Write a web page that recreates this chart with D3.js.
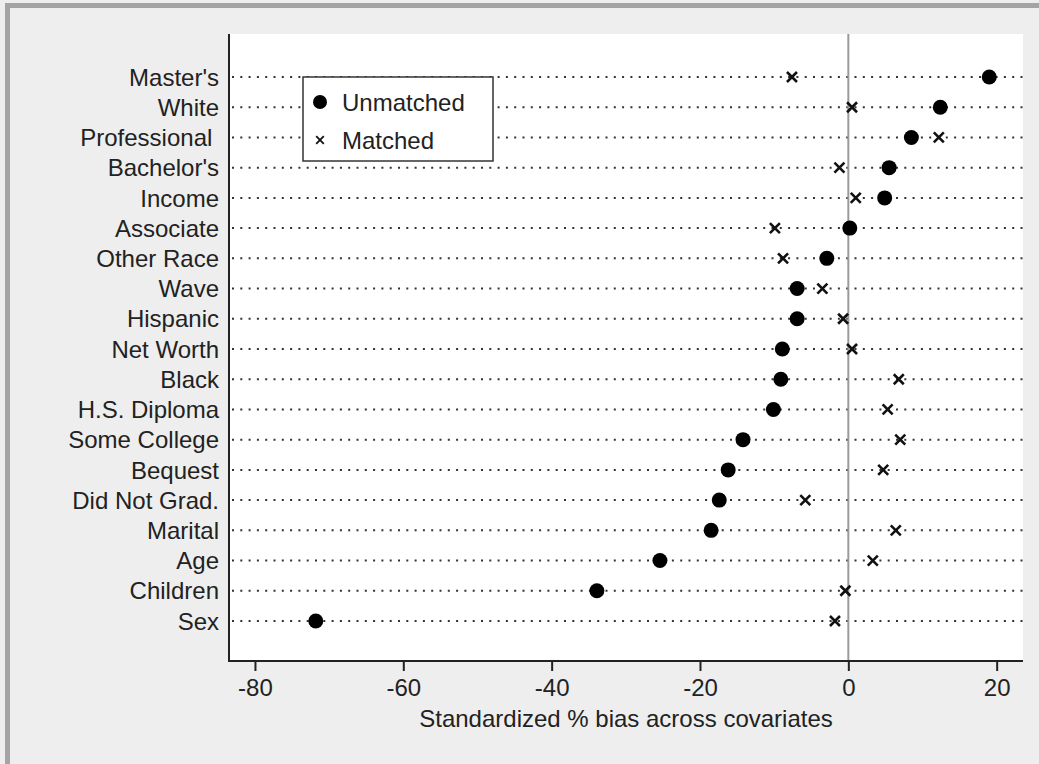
<!DOCTYPE html>
<html>
<head>
<meta charset="utf-8">
<script src="https://cdn.jsdelivr.net/npm/d3@7"></script>
<style>
  html, body { margin: 0; padding: 0; background: #eeeeee; }
  svg { display: block; font-family: "Liberation Sans", Arial, Helvetica, sans-serif; }
  text { white-space: pre; }
</style>
</head>
<body>
<svg id="chart"></svg>
<script>
// covariates, top to bottom
var covariates = ["Master's", "White", "Professional ", "Bachelor's", "Income", "Associate",
  "Other Race", "Wave", "Hispanic", "Net Worth", "Black", "H.S. Diploma", "Some College",
  "Bequest", "Did Not Grad.", "Marital", "Age", "Children", "Sex"];

// standardized % bias before matching
var unmatched = [19.0, 12.4, 8.5, 5.5, 4.9, 0.2, -2.9, -6.9, -6.9, -8.9, -9.1, -10.1, -14.2,
  -16.2, -17.4, -18.5, -25.4, -33.9, -71.8];

// standardized % bias after matching
var matched = [-7.6, 0.5, 12.2, -1.2, 1.0, -9.9, -8.8, -3.5, -0.7, 0.5, 6.8, 5.3, 7.0,
  4.7, -5.8, 6.4, 3.3, -0.4, -1.8];

var xTicks = [-80, -60, -40, -20, 0, 20];
var legendLabels = ["Unmatched", "Matched"];

var W = 1039, H = 764;
var plot = { left: 229, right: 1023, top: 34, bottom: 661 };
var fontSize = "24px";

var svg = d3.select("#chart").attr("width", W).attr("height", H);

// window frame
svg.append("rect").attr("x", 0).attr("y", 0).attr("width", W).attr("height", H).attr("fill", "#eeeeee");
svg.append("rect").attr("x", 5).attr("y", 3).attr("width", W - 5).attr("height", 5).attr("fill", "#a4a4a4");
svg.append("rect").attr("x", 5).attr("y", 3).attr("width", 5).attr("height", H - 3).attr("fill", "#a4a4a4");

var x = d3.scaleLinear().domain([-83.5, 23.55]).range([plot.left, plot.right]);
var y = d3.scalePoint().domain(covariates).range([77, 621]);

// plot region
svg.append("rect")
  .attr("x", plot.left).attr("y", plot.top)
  .attr("width", plot.right - plot.left).attr("height", plot.bottom - plot.top)
  .attr("fill", "#ffffff");

// dotted row guides
svg.selectAll(".guide")
  .data(covariates)
  .enter().append("line")
  .attr("class", "guide")
  .attr("x1", plot.left + 3).attr("x2", plot.right)
  .attr("y1", function (d) { return y(d); })
  .attr("y2", function (d) { return y(d); })
  .attr("stroke", "#333")
  .attr("stroke-width", 2)
  .attr("stroke-dasharray", "2,6.3");

// zero reference line
svg.append("line")
  .attr("x1", x(0)).attr("x2", x(0))
  .attr("y1", plot.top).attr("y2", plot.bottom)
  .attr("stroke", "#9a9a9a")
  .attr("stroke-width", 2);

// x axis
var xAxis = svg.append("g")
  .attr("transform", "translate(0," + plot.bottom + ")")
  .call(d3.axisBottom(x).tickValues(xTicks).tickSize(10).tickPadding(8).tickSizeOuter(0));
xAxis.select(".domain").remove();
xAxis.append("line")
  .attr("x1", plot.left - 1).attr("x2", plot.right)
  .attr("stroke", "#222").attr("stroke-width", 2);
xAxis.selectAll(".tick line").attr("stroke", "#222").attr("stroke-width", 2);
xAxis.selectAll(".tick text")
  .attr("fill", "#222")
  .style("font-size", fontSize)
  .style("font-family", "'Liberation Sans', Arial, sans-serif")
  .text(function (d) { return d < 0 ? "-" + Math.abs(d) : d; });

// y axis line
svg.append("line")
  .attr("x1", plot.left).attr("x2", plot.left)
  .attr("y1", plot.top).attr("y2", plot.bottom + 1)
  .attr("stroke", "#222").attr("stroke-width", 2);

// y labels
svg.selectAll(".ylab")
  .data(covariates)
  .enter().append("text")
  .attr("class", "ylab")
  .attr("x", 219)
  .attr("y", function (d) { return y(d); })
  .attr("dy", "0.36em")
  .attr("text-anchor", "end")
  .attr("fill", "#222")
  .style("font-size", fontSize)
  .text(function (d) { return d; });

// axis title
svg.append("text")
  .attr("x", (plot.left + plot.right) / 2)
  .attr("y", 727)
  .attr("text-anchor", "middle")
  .attr("fill", "#222")
  .style("font-size", fontSize)
  .text("Standardized % bias across covariates");

function cross(g, cx, cy, s, w) {
  g.append("path")
    .attr("d", "M" + (cx - s) + "," + (cy - s) + "L" + (cx + s) + "," + (cy + s) +
      "M" + (cx - s) + "," + (cy + s) + "L" + (cx + s) + "," + (cy - s))
    .attr("stroke", "#111")
    .attr("stroke-width", w)
    .attr("fill", "none");
}

// matched markers
var mg = svg.append("g");
matched.forEach(function (v, i) {
  cross(mg, x(v), y(covariates[i]), 5, 2.6);
});

// unmatched markers
svg.selectAll(".dot")
  .data(unmatched)
  .enter().append("circle")
  .attr("class", "dot")
  .attr("cx", function (d) { return x(d); })
  .attr("cy", function (d, i) { return y(covariates[i]); })
  .attr("r", 7.5)
  .attr("fill", "#000");

// legend
var lg = svg.append("g");
lg.append("rect")
  .attr("x", 303).attr("y", 77).attr("width", 190).attr("height", 84)
  .attr("fill", "#fff").attr("stroke", "#333").attr("stroke-width", 1.5);
lg.append("circle").attr("cx", 320).attr("cy", 102).attr("r", 7).attr("fill", "#000");
cross(lg, 320, 140, 3.8, 1.8);
lg.selectAll(".ltxt")
  .data(legendLabels)
  .enter().append("text")
  .attr("class", "ltxt")
  .attr("x", 342)
  .attr("y", function (d, i) { return 102 + i * 38; })
  .attr("dy", "0.36em")
  .attr("fill", "#222")
  .style("font-size", fontSize)
  .text(function (d) { return d; });
</script>
</body>
</html>
